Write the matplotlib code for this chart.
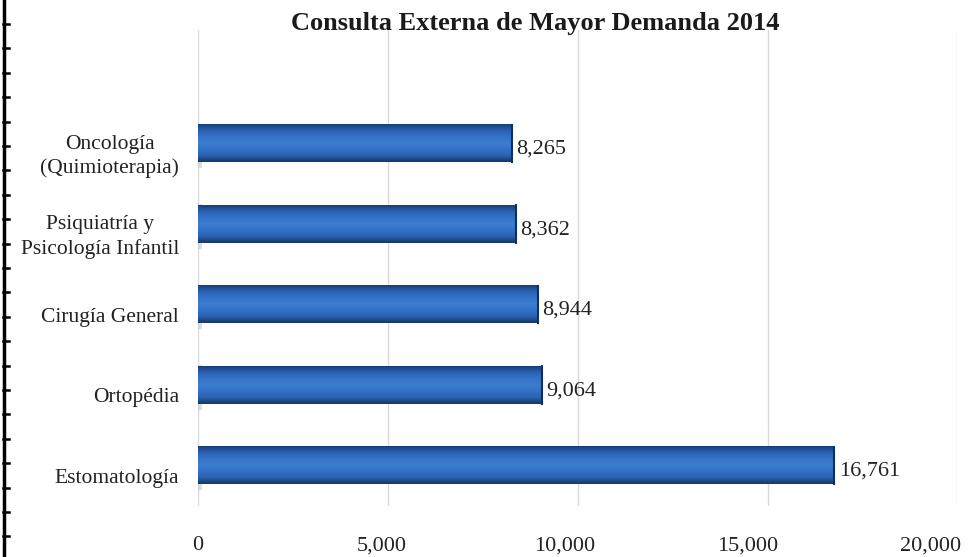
import matplotlib
matplotlib.use("Agg")
import matplotlib.pyplot as plt
import matplotlib.transforms as mtransforms
from matplotlib.lines import Line2D
import numpy as np

categories = ["Oncología\n(Quimioterapia)", "Psiquiatría y\nPsicología Infantil",
              "Cirugía General", "Ortopédia", "Estomatología"]
values = [8265, 8362, 8944, 9064, 16761]
xticks = [0, 5000, 10000, 15000, 20000]
xtick_labels = ["0", "5,000", "10,000", "15,000", "20,000"]
title = "Consulta Externa de Mayor Demanda 2014"

plt.rcParams['font.family'] = ['Liberation Serif', 'DejaVu Serif']

fig = plt.figure(figsize=(9.8, 5.57), dpi=100)
ax = fig.add_axes([0.202, 0.092, 0.775, 0.854])

# bottom category first on the y axis
ypos = np.arange(len(categories))[::-1]
bar_h = 0.47

# vertical gradient used to fake the 3D shading of the Excel bars
grad_cols = ["#183f78", "#2a62b3", "#3573c8", "#3d7dd2", "#3371c6", "#2a62b0", "#153866"]
cmap = matplotlib.colors.LinearSegmentedColormap.from_list("bar", grad_cols)
grad = np.linspace(0, 1, 64).reshape(-1, 1)

for y, v in zip(ypos, values):
    # soft shadow at the base
    ax.barh(y - 0.03, 250, height=bar_h + 0.08, left=-150, color="#c8c8c8", alpha=0.6, zorder=2)
    ax.imshow(grad, cmap=cmap, aspect="auto", zorder=3,
              extent=(0, v, y - bar_h / 2, y + bar_h / 2), origin="upper")
    ax.plot([v, v], [y - bar_h / 2, y + bar_h / 2], color="#122f5a", lw=1.5, zorder=4)
    ax.text(v + 120, y - 0.07, f"{v:,}", va="center", ha="left", fontsize=16, color="#222222")

ax.set_xlim(0, 20000)
ax.set_ylim(-0.5, 5.41)

for t in xticks:
    ax.axvline(t, color="#d9d9d9", lw=1, zorder=1)

# category labels sit a bit below the bars, like in the 3D Excel chart
trans = mtransforms.blended_transform_factory(ax.transAxes, ax.transData)
for y, cat in zip(ypos, categories):
    ax.text(-0.025, y - 0.16, cat, transform=trans, ha="right", va="center",
            multialignment="center", fontsize=15.5, color="#222222", linespacing=1.3)

ax.set_yticks([])
ax.set_xticks([])
for t, lab in zip(xticks, xtick_labels):
    ax.text(t * 0.965, -1.0, lab, ha="center", va="center", fontsize=16, color="#222222")

for s in ax.spines.values():
    s.set_visible(False)

fig.text(0.546, 0.958, title, ha="center", va="center", fontsize=19, fontweight="bold", color="#1a1a1a")

# black border with tick marks at the left edge of the page
fig.add_artist(Line2D([3.5 / 980, 3.5 / 980], [0, 1], color="black", lw=2.5, transform=fig.transFigure))
for yy in np.arange(24, 557, 24.4):
    fy = 1 - yy / 557
    fig.add_artist(Line2D([3 / 980, 9 / 980], [fy, fy], color="black", lw=1.8, transform=fig.transFigure))

fig.savefig("out.png", dpi=100)
